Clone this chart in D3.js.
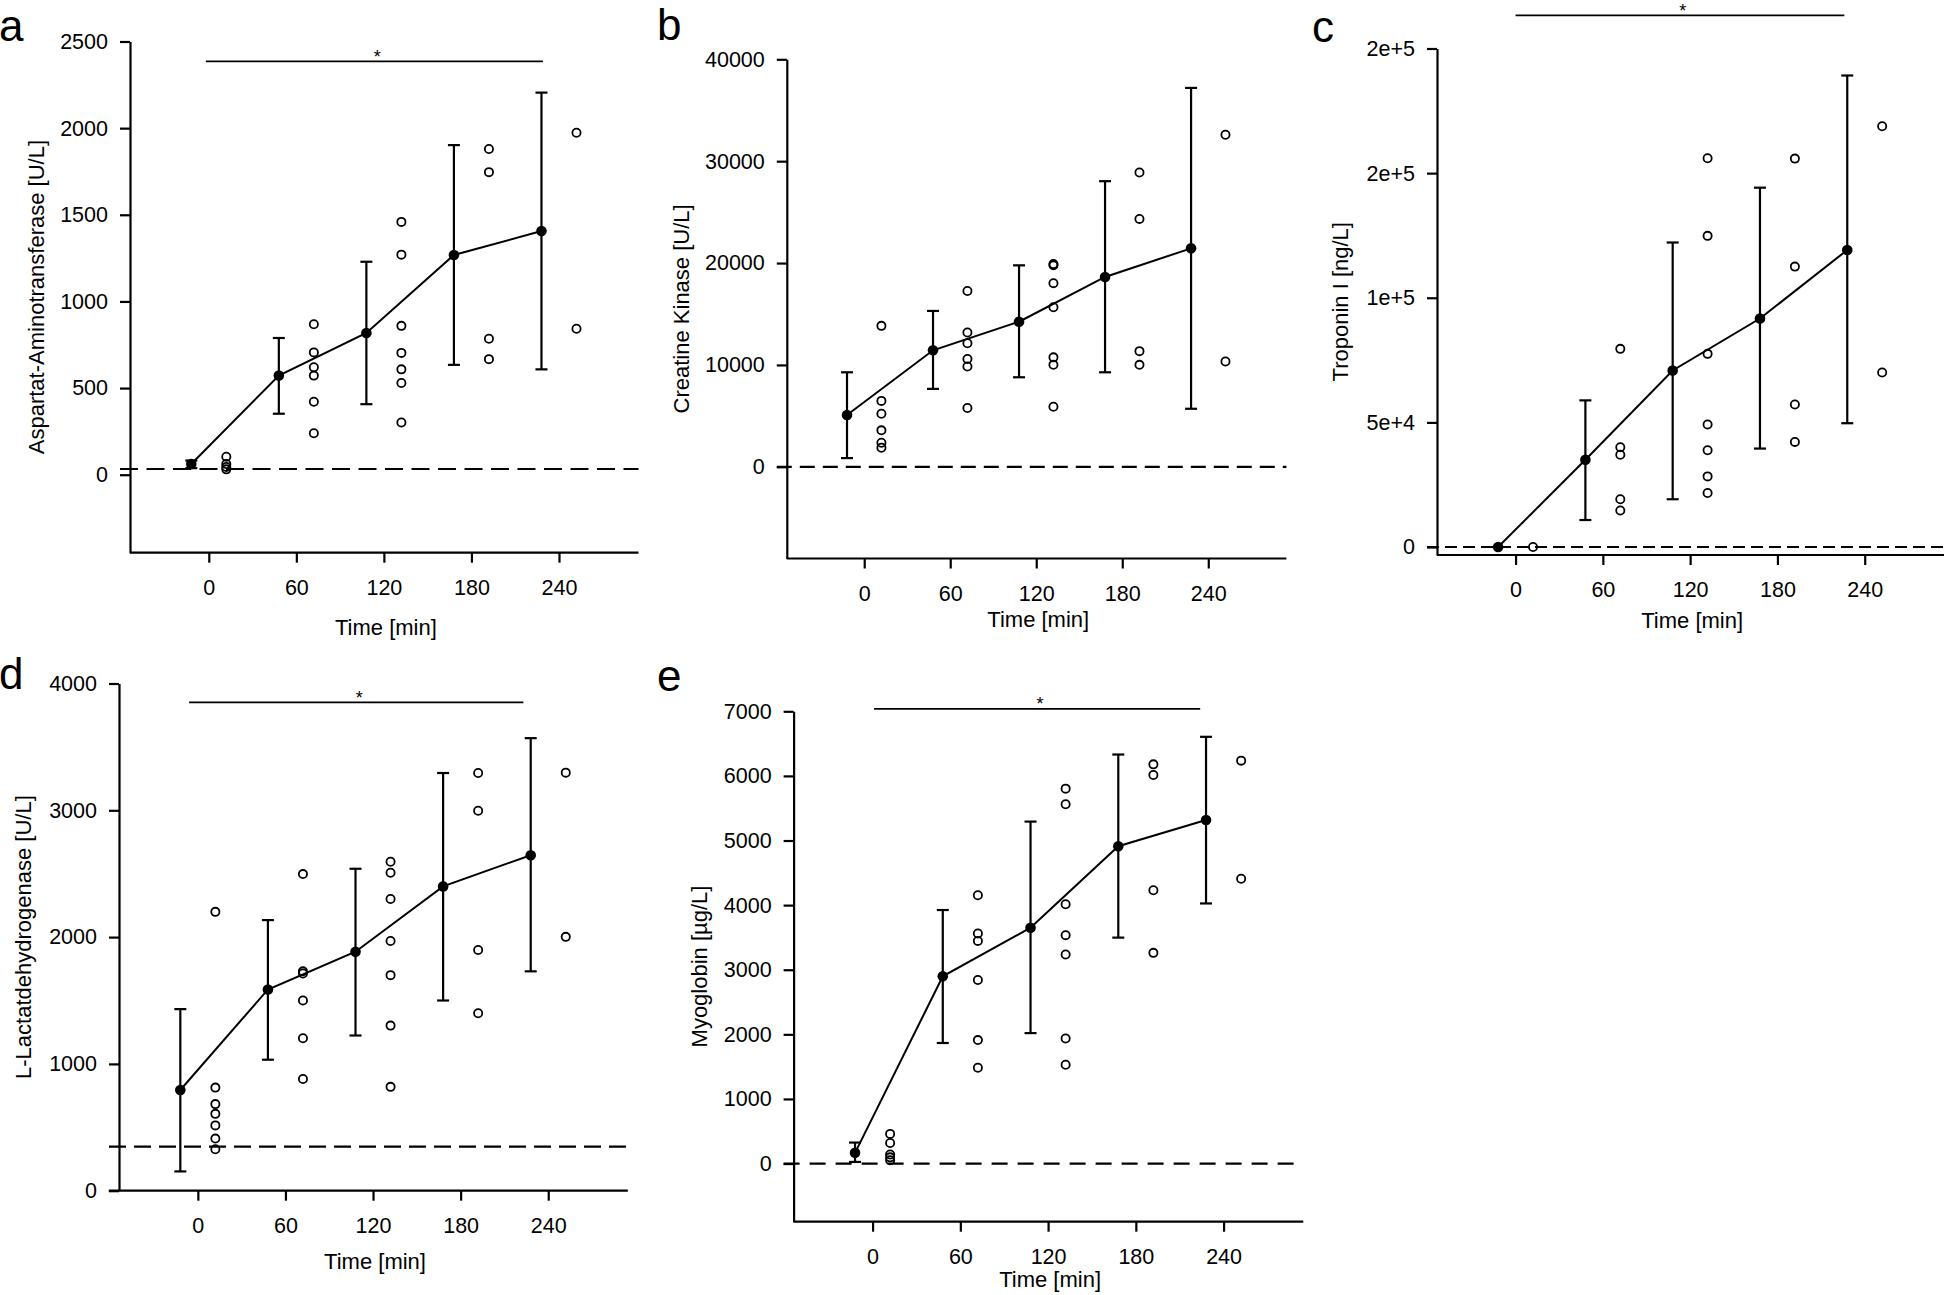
<!DOCTYPE html>
<html>
<head>
<meta charset="utf-8">
<script src="https://cdn.jsdelivr.net/npm/d3@7"></script>
<style>
  body { margin: 0; background: #fff; }
  svg { display: block; }
  .tick text { font-family: "Liberation Sans", Arial, sans-serif; font-size: 21.5px; fill: #000; }
</style>
</head>
<body>
<div id="chart"></div>
<script>

// time points (min); means are drawn 12 min left, single values 12 min right
var times = [0, 60, 120, 180, 240];
var xTicks = [0, 60, 120, 180, 240];
var meanShift = -12, pointShift = 12;

// a - Aspartat-Aminotransferase
var astMean = [62, 572, 818, 1268, 1406];
var astLo = [38, 352, 407, 634, 608];
var astHi = [82, 789, 1229, 1902, 2205];
var astPoints = [[104, 62, 45, 31], [868, 706, 620, 572, 421, 239], [1459, 1270, 859, 703, 608, 529, 301], [1880, 1746, 785, 667], [1973, 842]];
var astTicks = [0, 500, 1000, 1500, 2000, 2500];
var astTickLabels = ["0", "500", "1000", "1500", "2000", "2500"];
var astRef = 33;

// b - Creatine Kinase
var ckMean = [5086, 11434, 14242, 18636, 21444];
var ckLo = [855, 7650, 8789, 9277, 5697];
var ckHi = [9277, 15300, 19776, 28036, 37191];
var ckPoints = [[13835, 6470, 5208, 3581, 2360, 1872], [17253, 13184, 12126, 10579, 9847, 5778], [19898, 19776, 18026, 15666, 10742, 10010, 5900], [28890, 24333, 11353, 10010], [32593, 10335]];
var ckTicks = [0, 10000, 20000, 30000, 40000];
var ckTickLabels = ["0", "10000", "20000", "30000", "40000"];
var ckRef = 0;

// c - Troponin I
var tnMean = [0, 35000, 70833, 91667, 119167];
var tnLo = [null, 10833, 19167, 39500, 49667];
var tnHi = [null, 58833, 122167, 144167, 189167];
var tnPoints = [[0], [79500, 40000, 37000, 19167, 14667], [156000, 124833, 77500, 49167, 38833, 28333, 21667], [155833, 112500, 57167, 42167], [168833, 70000]];
var tnTicks = [0, 50000, 100000, 150000, 200000];
var tnTickLabels = ["0", "5e+4", "1e+5", "2e+5", "2e+5"];
var tnRef = 0;

// d - L-Lactatdehydrogenase
var ldhMean = [794, 1587, 1885, 2400, 2646];
var ldhLo = [152, 1033, 1224, 1500, 1730];
var ldhHi = [1432, 2134, 2539, 3294, 3569];
var ldhPoints = [[2199, 813, 683, 606, 515, 411, 327], [2497, 1730, 1713, 1500, 1202, 881], [2594, 2507, 2300, 1969, 1700, 1302, 819], [3294, 2996, 1898, 1399], [3297, 2002]];
var ldhTicks = [0, 1000, 2000, 3000, 4000];
var ldhTickLabels = ["0", "1000", "2000", "3000", "4000"];
var ldhRef = 347;

// e - Myoglobin
var mbMean = [166, 2898, 3650, 4911, 5318];
var mbLo = [25, 1866, 2019, 3497, 4026];
var mbHi = [325, 3924, 5293, 6331, 6605];
var mbPoints = [[459, 318, 140, 96, 50], [4153, 3561, 3446, 2841, 1911, 1484], [5803, 5561, 4013, 3535, 3236, 1936, 1529], [6179, 6013, 4230, 3261], [6236, 4408]];
var mbTicks = [0, 1000, 2000, 3000, 4000, 5000, 6000, 7000];
var mbTickLabels = ["0", "1000", "2000", "3000", "4000", "5000", "6000", "7000"];
var mbRef = 0;

// significance bars: [from, to, level]
var astSig = [-2, 229, 2385];
var tnSig = [0, 226, 213300];
var ldhSig = [-6, 223, 3851];
var mbSig = [1, 224, 7039];

var panels = [
  { letter: "a", title: "Aspartat-Aminotransferase [U/L]", mean: astMean, lo: astLo, hi: astHi, pts: astPoints,
    ticks: astTicks, labels: astTickLabels, ref: astRef, sig: astSig, yDomain: [-450, 2500],
    left: 130, right: 638.5, top: 41.5, bottom: 552.7, xLineFrom: -54, titleDy: 75, yTitleOff: 94,
    lx: -1, ly: 41, dash: "18,8.5" },
  { letter: "b", title: "Creatine Kinase [U/L]", mean: ckMean, lo: ckLo, hi: ckHi, pts: ckPoints,
    ticks: ckTicks, labels: ckTickLabels, ref: ckRef, sig: null, yDomain: [-9000, 40000],
    left: 786.8, right: 1286.4, top: 59.3, bottom: 558.5, xLineFrom: -54, titleDy: 61, yTitleOff: 106,
    lx: 657, ly: 40, dash: "15,8" },
  { letter: "c", title: "Troponin I [ng/L]", mean: tnMean, lo: tnLo, hi: tnHi, pts: tnPoints,
    ticks: tnTicks, labels: tnTickLabels, ref: tnRef, sig: tnSig, yDomain: [-3200, 200000],
    left: 1437, right: 1944, top: 48.5, bottom: 555, xLineFrom: -54, titleDy: 65, yTitleOff: 97,
    lx: 1312, ly: 41.5, dash: "12,6" },
  { letter: "d", title: "L-Lactatdehydrogenase [U/L]", mean: ldhMean, lo: ldhLo, hi: ldhHi, pts: ldhPoints,
    ticks: ldhTicks, labels: ldhTickLabels, ref: ldhRef, sig: ldhSig, yDomain: [0, 4000],
    left: 119, right: 627.8, top: 683.5, bottom: 1190.7, xLineFrom: -61, titleDy: 71, yTitleOff: 96,
    lx: -1, ly: 689, dash: "17,8" },
  { letter: "e", title: "Myoglobin [µg/L]", mean: mbMean, lo: mbLo, hi: mbHi, pts: mbPoints,
    ticks: mbTicks, labels: mbTickLabels, ref: mbRef, sig: mbSig, yDomain: [-900, 7000],
    left: 793.6, right: 1303.3, top: 711.3, bottom: 1221.7, xLineFrom: -54, titleDy: 58, yTitleOff: 94,
    lx: 657, ly: 691, dash: "16,10" }
];

var svg = d3.select("#chart").append("svg")
    .attr("width", 1946)
    .attr("height", 1295);

svg.append("rect").attr("width", 1946).attr("height", 1295).attr("fill", "#fff");

panels.forEach(function(p){ drawPanel(p); });

function drawPanel(p){

  var g = svg.append("g");

  var x = d3.scaleLinear().domain([-54, 294.5]).range([p.left, p.right]);
  var y = d3.scaleLinear().domain(p.yDomain).range([p.bottom, p.top]);

  // x axis
  var gx = g.append("g")
      .attr("transform", "translate(0," + p.bottom + ")")
      .call(d3.axisBottom(x).tickValues(xTicks).tickSize(10).tickPadding(17).tickSizeOuter(0));
  gx.select(".domain").remove();
  gx.selectAll(".tick line").attr("stroke", "#000").attr("stroke-width", 2.2);
  g.append("line")
      .attr("x1", x(p.xLineFrom)).attr("x2", p.right)
      .attr("y1", p.bottom).attr("y2", p.bottom)
      .attr("stroke", "#000").attr("stroke-width", 2.2);

  // y axis
  var gy = g.append("g")
      .attr("transform", "translate(" + p.left + ",0)")
      .call(d3.axisLeft(y).tickValues(p.ticks)
        .tickFormat(function(d, i){ return p.labels[i]; })
        .tickSize(10).tickPadding(12).tickSizeOuter(0));
  gy.select(".domain").attr("stroke", "#000").attr("stroke-width", 2.2);
  gy.selectAll(".tick line").attr("stroke", "#000").attr("stroke-width", 2.2);

  // reference line
  g.append("line")
      .attr("x1", p.left - 10).attr("x2", p.right)
      .attr("y1", y(p.ref)).attr("y2", y(p.ref))
      .attr("stroke", "#000").attr("stroke-width", 2.2)
      .attr("stroke-dasharray", p.dash);

  // error bars
  var bars = times.map(function(t, i){ return { t: t + meanShift, lo: p.lo[i], hi: p.hi[i] }; })
      .filter(function(d){ return d.lo !== null; });

  var eb = g.selectAll(".eb").data(bars).enter().append("g").attr("class", "eb")
      .attr("stroke", "#000").attr("stroke-width", 2.2);
  eb.append("line")
      .attr("x1", function(d){ return x(d.t); }).attr("x2", function(d){ return x(d.t); })
      .attr("y1", function(d){ return y(d.lo); }).attr("y2", function(d){ return y(d.hi); });
  eb.append("line")
      .attr("x1", function(d){ return x(d.t) - 6; }).attr("x2", function(d){ return x(d.t) + 6; })
      .attr("y1", function(d){ return y(d.lo); }).attr("y2", function(d){ return y(d.lo); });
  eb.append("line")
      .attr("x1", function(d){ return x(d.t) - 6; }).attr("x2", function(d){ return x(d.t) + 6; })
      .attr("y1", function(d){ return y(d.hi); }).attr("y2", function(d){ return y(d.hi); });

  // mean line + markers
  var means = times.map(function(t, i){ return { t: t + meanShift, v: p.mean[i] }; });
  var line = d3.line().x(function(d){ return x(d.t); }).y(function(d){ return y(d.v); });
  g.append("path").datum(means)
      .attr("d", line)
      .attr("fill", "none").attr("stroke", "#000").attr("stroke-width", 2);
  g.selectAll(".mean").data(means).enter().append("circle").attr("class", "mean")
      .attr("cx", function(d){ return x(d.t); })
      .attr("cy", function(d){ return y(d.v); })
      .attr("r", 5.3)
      .attr("fill", "#000");

  // single values
  var singles = [];
  times.forEach(function(t, i){
    p.pts[i].forEach(function(v){ singles.push({ t: t + pointShift, v: v }); });
  });
  g.selectAll(".pt").data(singles).enter().append("circle").attr("class", "pt")
      .attr("cx", function(d){ return x(d.t); })
      .attr("cy", function(d){ return y(d.v); })
      .attr("r", 4.1)
      .attr("fill", "none").attr("stroke", "#000").attr("stroke-width", 1.8);

  // significance bar
  if(p.sig){
    g.append("line")
        .attr("x1", x(p.sig[0])).attr("x2", x(p.sig[1]))
        .attr("y1", y(p.sig[2])).attr("y2", y(p.sig[2]))
        .attr("stroke", "#000").attr("stroke-width", 1.8);
    g.append("text")
        .attr("x", x((p.sig[0] + p.sig[1]) / 2 + 2))
        .attr("y", y(p.sig[2]) + 1.5)
        .attr("text-anchor", "middle")
        .style("font-family", "'Liberation Sans', Arial, sans-serif")
        .style("font-size", "18px")
        .text("*");
  }

  // axis titles
  g.append("text")
      .attr("x", x(120) + 2)
      .attr("y", p.bottom + p.titleDy)
      .attr("dy", "0.35em")
      .attr("text-anchor", "middle")
      .style("font-family", "'Liberation Sans', Arial, sans-serif")
      .style("font-size", "22px")
      .text("Time [min]");

  g.append("text")
      .attr("transform", "translate(" + (p.left - p.yTitleOff) + "," + ((p.top + p.bottom) / 2) + ")rotate(-90)")
      .attr("dy", "0.35em")
      .attr("text-anchor", "middle")
      .style("font-family", "'Liberation Sans', Arial, sans-serif")
      .style("font-size", "22px")
      .text(p.title);

  // panel letter
  g.append("text")
      .attr("x", p.lx)
      .attr("y", p.ly)
      .style("font-family", "'Liberation Sans', Arial, sans-serif")
      .style("font-size", "44px")
      .text(p.letter);
}

</script>
</body>
</html>
